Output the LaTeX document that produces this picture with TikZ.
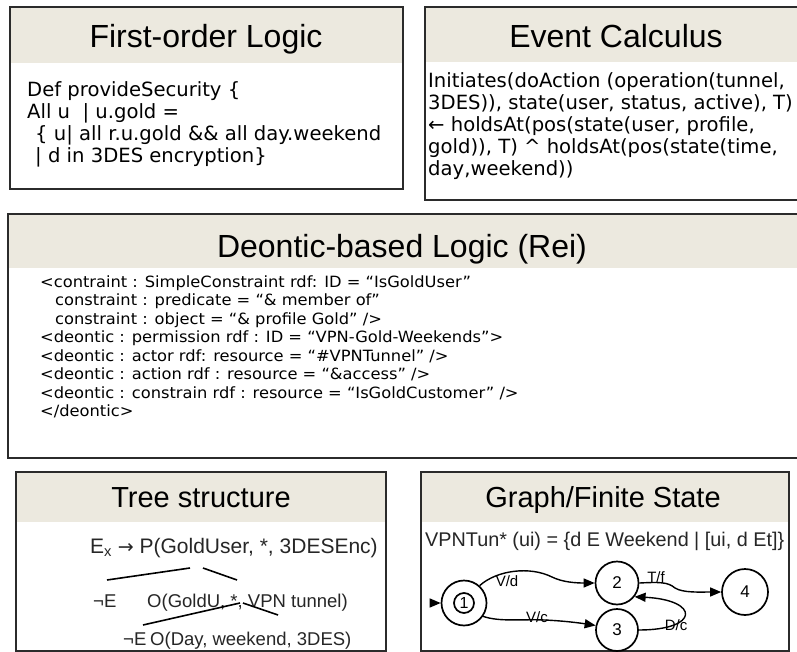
\documentclass[tikz,border=0pt]{standalone}
\usepackage{fontspec}
\setmainfont{Liberation Sans}
\newfontfamily\pixfont{DejaVu Sans}
\newfontfamily\reifont[FakeStretch=1.05]{DejaVu Sans}
\usetikzlibrary{arrows.meta}
\definecolor{headbg}{HTML}{ECE9DF}
\definecolor{framec}{HTML}{2B2B2B}

\tikzset{
  panel/.style={draw=framec, line width=1.4pt},
  header/.style={fill=headbg},
  title/.style={anchor=base, inner sep=0pt, font=\fontsize{32}{36}\selectfont},
  subtitle/.style={anchor=base, inner sep=0pt, font=\fontsize{29}{32}\selectfont},
  bodyline/.style={anchor=base west, inner sep=0pt, font=\pixfont\fontsize{19.6}{22}\selectfont},
  reiline/.style={anchor=base west, inner sep=0pt, font=\reifont\fontsize{15.5}{18}\selectfont},
  treetext/.style={anchor=base west, inner sep=0pt, font=\fontsize{18.5}{22}\selectfont, text=black!85},
  state/.style={circle, draw=black, line width=1.7pt, minimum size=43pt, inner sep=0pt, font=\fontsize{17}{20}\selectfont},
  trans/.style={draw=black, line width=1.4pt, -{Triangle[length=11pt,width=9pt]}},
  translabel/.style={inner sep=0pt, font=\fontsize{15}{18}\selectfont},
  branch/.style={draw=black, line width=1.6pt}
}

\begin{document}
\begin{tikzpicture}[x=1pt, y=-1pt]
\useasboundingbox (0,0) rectangle (797,652);
\fill[white] (0,0) rectangle (797,652);

% --- First-order Logic panel
\fill[header] (10,7) rectangle (403,63);
\draw[panel] (10,7) rectangle (403,189);
\node[title] (folT) at (206,48) {First-order Logic};
\node[bodyline] (fol1) at (27,97) {Def provideSecurity \{};
\node[bodyline] (fol2) at (27,119) {All u \ | u.gold =};
\node[bodyline] (fol3) at (35,141) {\{ u| all r.u.gold \&\& all day.weekend};
\node[bodyline] (fol4) at (35,163) {| d in 3DES encryption\}};

% --- Event Calculus panel
\fill[header] (425,7) rectangle (798,62);
\draw[panel] (798,7) -- (425,7) -- (425,200) -- (798,200);
\node[title] (ecT) at (616,48) {Event Calculus};
\node[bodyline] (ec1) at (428,88) {Initiates(doAction (operation(tunnel,};
\node[bodyline] (ec2) at (428,110) {3DES)), state(user, status, active), T)};
\node[bodyline] (ec3) at (428,132) {← holdsAt(pos(state(user, profile,};
\node[bodyline] (ec4) at (428,154) {gold)), T) \textasciicircum\ holdsAt(pos(state(time,};
\node[bodyline] (ec5) at (428,176) {day,weekend))};

% --- Deontic-based Logic panel
\fill[header] (8,214) rectangle (798,268);
\draw[panel] (798,214) -- (8,214) -- (8,458) -- (798,458);
\node[title] (reiT) at (402,258) {Deontic-based Logic (Rei)};
\node[reiline] (rei1) at (40,287) {<contraint : SimpleConstraint rdf: ID = “IsGoldUser”};
\node[reiline] (rei2) at (55,305.5) {constraint : predicate = “\& member of”};
\node[reiline] (rei3) at (55,324) {constraint : object = “\& profile Gold” />};
\node[reiline] (rei4) at (40,342.5) {<deontic : permission rdf : ID = “VPN-Gold-Weekends”>};
\node[reiline] (rei5) at (40,361) {<deontic : actor rdf: resource = “\#VPNTunnel” />};
\node[reiline] (rei6) at (40,379.5) {<deontic : action rdf : resource = “\&access” />};
\node[reiline] (rei7) at (40,398) {<deontic : constrain rdf : resource = “IsGoldCustomer” />};
\node[reiline] (rei8) at (40,416.5) {</deontic>};

% --- Tree structure panel
\fill[header] (16,472) rectangle (386,522);
\draw[panel] (16,472) rectangle (386,651);
\node[subtitle] (treeT) at (201,507) {Tree structure};
\node[treetext, font=\fontsize{21}{24}\selectfont] (root) at (90,553)
  {E\textsubscript{x} {\pixfont\fontsize{19}{22}\selectfont →} P(GoldUser, *, 3DESEnc)};
\node[treetext] (negA) at (93,607) {¬E};
\node[treetext] (obA) at (147,607) {O(GoldU, *, VPN tunnel)};
\node[treetext] (negB) at (123,645) {¬E};
\node[treetext] (obB) at (150,645) {O(Day, weekend, 3DES)};
\coordinate (rootL) at (190,568);
\coordinate (rootR) at (203,568);
\coordinate (obAL) at (240,603);
\coordinate (obAR) at (243,603);
\draw[branch] (rootL) -- (107,580);
\draw[branch] (rootR) -- (237,580);
\draw[branch] (obAL) -- (143,625);
\draw[branch] (obAR) -- (278,615);

% --- Graph / finite state panel
\fill[header] (421,472) rectangle (789,522);
\draw[panel] (421,472) rectangle (789,651);
\node[subtitle] (fsmT) at (603,507) {Graph/Finite State};
\node[treetext, font=\fontsize{19.8}{22}\selectfont] (fsmEq) at (425,546)
  {VPNTun* (ui) = \{d E Weekend | [ui, d Et]\}};

\node[state, minimum size=45pt] (s1) at (464,603) {};
\node[circle, draw=black, line width=1.7pt, minimum size=20pt, inner sep=0pt,
      font=\fontsize{16}{18}\selectfont] (s1in) at (s1) {1};
\node[state] (s2) at (617,583) {2};
\node[state, minimum size=42pt] (s3) at (617,630) {3};
\node[state, minimum size=46pt] (s4) at (745,592) {4};

\coordinate (start) at (430,603);
\draw[trans] (start) -- (s1);
\draw[trans] (s1.48) .. controls (497,570) and (530,566) .. (552,577)
  .. controls (562,582) and (575,583) .. (s2.west);
\draw[trans] (s1.-35) .. controls (500,622) and (520,619) .. (545,620)
  .. controls (565,621) and (580,623) .. (s3.168);
\draw[trans] (s2.east) .. controls (660,582) and (668,582) .. (675,588)
  .. controls (683,593) and (700,592) .. (s4.west);
\draw[trans] (s3.east) .. controls (700,630) and (700,600) .. (s2.-38);

\node[translabel] (lVd) at (507,581) {V/d};
\node[translabel] (lVc) at (537,617) {V/c};
\node[translabel] (lTf) at (656,577) {T/f};
\node[translabel] (lDc) at (676,625) {D/c};
\end{tikzpicture}
\end{document}
